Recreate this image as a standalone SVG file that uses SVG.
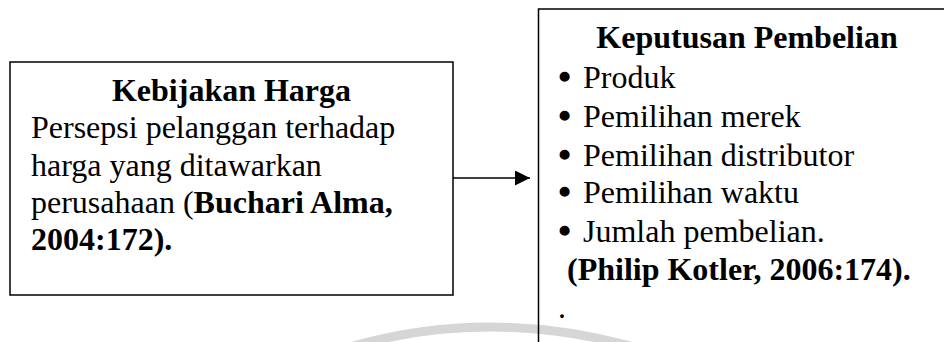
<svg xmlns="http://www.w3.org/2000/svg" width="944" height="342" viewBox="0 0 944 342">
<defs>
<style>
.box{fill:none;stroke:#000;stroke-width:1.5}
.t{font-family:"Liberation Serif","Times New Roman",serif;font-size:32px;fill:#000}
.b{font-weight:bold}
.bu{stroke:#000;stroke-width:2.4;stroke-linejoin:round}
.conn{stroke:#000;stroke-width:1.5;fill:none}
</style>
<marker id="ah" markerWidth="15" markerHeight="15" refX="15" refY="7.5" orient="auto" markerUnits="userSpaceOnUse">
<path d="M0,0 L15,7.5 L0,15 Z" fill="#000"/>
</marker>
</defs>
<rect width="944" height="342" fill="#fff"/>
<path d="M 340,350 Q 487,304 645,350" fill="none" stroke="#d6d6d6" stroke-width="9"/>
<g id="kebijakan-harga">
<rect class="box" x="10" y="62" width="443" height="233"/>
<text class="t b" x="231.5" y="101" text-anchor="middle">Kebijakan Harga</text>
<text class="t" x="31" y="138">Persepsi pelanggan terhadap</text>
<text class="t" x="31" y="176">harga yang ditawarkan</text>
<text class="t" x="31" y="213">perusahaan (<tspan class="b">Buchari Alma,</tspan></text>
<text class="t b" x="31" y="250">2004:172).</text>
</g>
<g id="keputusan-pembelian">
<rect class="box" x="538.5" y="9" width="500" height="400"/>
<text class="t b" x="747" y="48" text-anchor="middle">Keputusan Pembelian</text>
<text class="t" x="559" y="88"><tspan class="bu">•</tspan><tspan x="583">Produk</tspan></text>
<text class="t" x="559" y="127"><tspan class="bu">•</tspan><tspan x="583">Pemilihan merek</tspan></text>
<text class="t" x="559" y="166"><tspan class="bu">•</tspan><tspan x="583">Pemilihan distributor</tspan></text>
<text class="t" x="559" y="203"><tspan class="bu">•</tspan><tspan x="583">Pemilihan waktu</tspan></text>
<text class="t" x="559" y="242"><tspan class="bu">•</tspan><tspan x="583">Jumlah pembelian.</tspan></text>
<text class="t b" x="567" y="280">(Philip Kotler, 2006:174).</text>
<text class="t" x="558" y="318">.</text>
</g>
<g id="connectors">
<line class="conn" x1="453" y1="178" x2="530" y2="178" marker-end="url(#ah)"/>
</g>
</svg>
